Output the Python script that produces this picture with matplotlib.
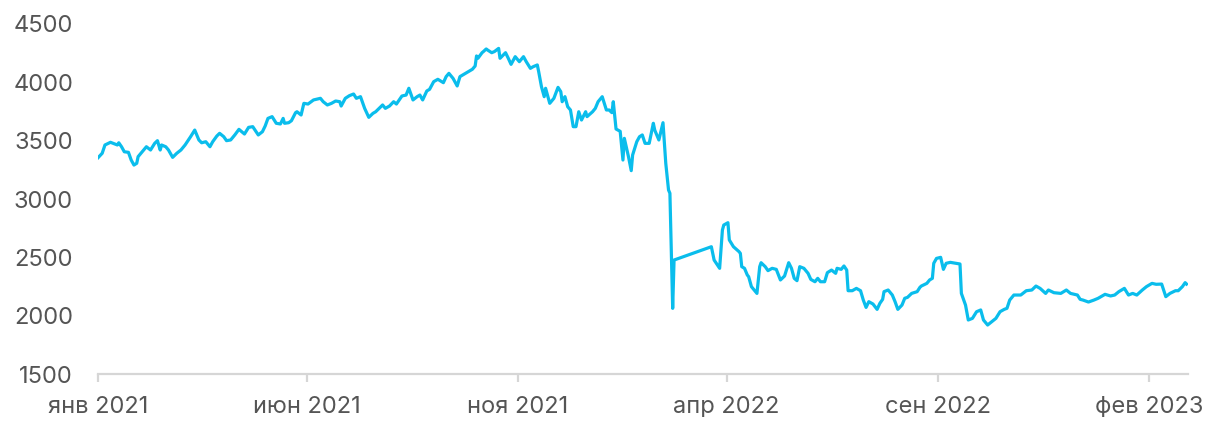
import numpy as np
import pandas as pd
import matplotlib
matplotlib.use('Agg')
import matplotlib.pyplot as plt
import matplotlib.dates as mdates

# days since 2021-01-01 and index value
days = [0, 3, 5, 9, 11, 14, 15, 17, 19, 22, 24, 26, 28, 29, 32, 35, 38, 41, 43, 45,
        46, 49, 51, 54, 57, 60, 63, 67, 70, 73, 75, 78, 81, 83, 86, 88, 91, 93, 96, 99,
        102, 104, 106, 109, 112, 116, 119, 121, 123, 126, 129, 132, 134, 135, 138, 140, 143, 144, 147, 149,
        152, 156, 161, 163, 166, 169, 172, 175, 176, 179, 182, 185, 187, 190, 193, 196, 199, 201, 206, 208,
        211, 214, 216, 220, 223, 225, 228, 231, 233, 235, 238, 240, 243, 246, 250, 252, 254, 257, 260, 262,
        266, 268, 271, 273, 274, 275, 278, 279, 281, 282, 285, 287, 290, 291, 295, 297, 299, 302, 305, 308,
        310, 313, 315, 318, 319, 321, 323, 324, 327, 330, 333, 335, 336, 338, 340, 342, 344, 346, 348, 350,
        353, 354, 358, 360, 362, 365, 368, 370, 372, 373, 375, 378, 380, 381, 384, 386, 387, 390, 392, 394,
        396, 399, 402, 403, 406, 409, 411, 413, 414, 416, 417, 444, 446, 450, 452, 453, 456, 457, 460, 464,
        465, 466, 468, 470, 471, 473, 477, 479, 480, 483, 485, 488, 491, 494, 497, 500, 502, 504, 506, 508,
        511, 514, 516, 519, 521, 523, 526, 528, 531, 534, 535, 538, 540, 542, 543, 546, 549, 552, 554, 556,
        558, 561, 564, 566, 568, 569, 572, 575, 577, 579, 582, 584, 586, 589, 593, 595, 596, 600, 602, 604,
        605, 607, 610, 612, 614, 617, 621, 624, 625, 628, 630, 633, 636, 639, 641, 644, 647, 650, 653, 656,
        658, 660, 663, 668, 672, 676, 679, 682, 686, 688, 692, 697, 701, 704, 709, 711, 713, 717, 721, 724,
        729, 733, 736, 739, 743, 746, 749, 752, 756, 759, 763, 766, 770, 773, 776, 780, 782, 785, 787, 788]

values = [3354, 3392, 3463, 3486, 3477, 3463, 3482, 3448, 3405, 3400, 3334, 3291, 3306, 3363, 3405, 3448, 3420, 3477, 3500, 3420,
          3463, 3448, 3420, 3357, 3392, 3420, 3463, 3534, 3591, 3506, 3482, 3491, 3448, 3491, 3540, 3563, 3534, 3500, 3506, 3549,
          3597, 3577, 3557, 3614, 3620, 3549, 3577, 3626, 3691, 3706, 3649, 3643, 3691, 3649, 3654, 3671, 3740, 3748, 3720, 3820,
          3814, 3849, 3863, 3834, 3806, 3820, 3840, 3834, 3797, 3863, 3886, 3900, 3863, 3877, 3777, 3700, 3734, 3748, 3806, 3777,
          3797, 3834, 3814, 3883, 3891, 3949, 3849, 3877, 3891, 3849, 3926, 3940, 4006, 4026, 3997, 4049, 4077, 4034, 3969, 4049,
          4077, 4091, 4112, 4140, 4226, 4206, 4254, 4264, 4286, 4277, 4254, 4264, 4291, 4206, 4254, 4206, 4154, 4220, 4177, 4220,
          4177, 4120, 4134, 4149, 4091, 3963, 3877, 3949, 3820, 3863, 3957, 3920, 3834, 3877, 3791, 3763, 3620, 3620, 3748, 3677,
          3748, 3706, 3748, 3777, 3834, 3877, 3763, 3763, 3740, 3834, 3600, 3580, 3334, 3520, 3363, 3243, 3377, 3491, 3534, 3549,
          3477, 3477, 3649, 3591, 3506, 3654, 3306, 3077, 3049, 2063, 2477, 2591, 2477, 2406, 2734, 2777, 2797, 2649, 2591, 2549,
          2534, 2420, 2406, 2349, 2334, 2249, 2191, 2420, 2454, 2420, 2386, 2406, 2397, 2306, 2340, 2454, 2406, 2320, 2300, 2420,
          2406, 2363, 2311, 2291, 2320, 2291, 2291, 2369, 2391, 2363, 2406, 2397, 2426, 2391, 2214, 2214, 2234, 2214, 2134, 2071,
          2120, 2100, 2054, 2106, 2140, 2206, 2220, 2177, 2120, 2054, 2091, 2149, 2157, 2191, 2206, 2243, 2254, 2277, 2306, 2320,
          2449, 2491, 2500, 2397, 2449, 2457, 2449, 2443, 2191, 2091, 1963, 1977, 2034, 2049, 1963, 1920, 1949, 1977, 2034, 2054,
          2063, 2134, 2177, 2177, 2214, 2220, 2254, 2234, 2191, 2220, 2197, 2191, 2220, 2191, 2177, 2140, 2134, 2117, 2134, 2149,
          2183, 2169, 2177, 2206, 2234, 2177, 2191, 2177, 2220, 2249, 2277, 2269, 2271, 2163, 2191, 2214, 2214, 2249, 2283, 2271]

tick_dates = ['2021-01-01', '2021-06-01', '2021-11-01', '2022-04-01', '2022-09-01', '2023-02-01']
tick_labels = ['янв 2021', 'июн 2021', 'ноя 2021', 'апр 2022', 'сен 2022', 'фев 2023']
y_ticks = [1500, 2000, 2500, 3000, 3500, 4000, 4500]

start = pd.Timestamp('2021-01-01')
dates = start + pd.to_timedelta(days, unit='D')

plt.rcParams['font.family'] = ['Inter', 'DejaVu Sans']

fig = plt.figure(figsize=(12.06, 4.21), dpi=100)
ax = fig.add_axes([0.0813, 0.1116, 0.9037, 0.8314])

ax.plot(dates, values, color='#0ABDEC', linewidth=2.3, solid_joinstyle='round')

ax.set_xlim(start, start + pd.Timedelta(days=789))
ax.set_ylim(1500, 4500)
ax.set_yticks(y_ticks)
ax.set_xticks(pd.to_datetime(tick_dates))
ax.set_xticklabels(tick_labels)

for s in ['top', 'right', 'left']:
    ax.spines[s].set_visible(False)
ax.spines['bottom'].set_color('#d6d6d6')
ax.spines['bottom'].set_linewidth(1.6)

ax.tick_params(axis='y', length=0, pad=18, labelsize=17, labelcolor='#555555')
ax.tick_params(axis='x', length=6, width=1.6, color='#d6d6d6', pad=10,
               labelsize=17, labelcolor='#555555')

fig.savefig('out.png', dpi=100)
